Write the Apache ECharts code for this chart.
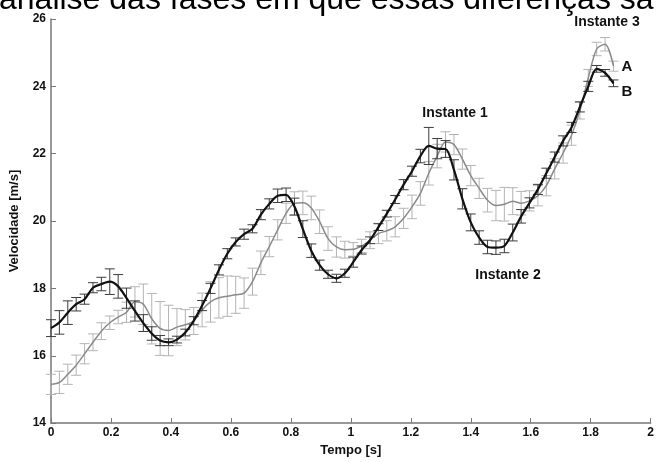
<!DOCTYPE html>
<html>
<head>
<meta charset="utf-8">
<script src="https://cdn.jsdelivr.net/npm/echarts@6/dist/echarts.min.js"></script>
<style>
  html, body { margin: 0; padding: 0; background: #fff; }
  #main { width: 657px; height: 462px; }
</style>
</head>
<body>
<div id="main"></div>
<script>
// sampling instants (s)
var tempo = [0, 0.028, 0.056, 0.084, 0.112, 0.14, 0.168, 0.196, 0.224, 0.252,
  0.28, 0.308, 0.336, 0.364, 0.392, 0.42, 0.448, 0.476, 0.504, 0.532,
  0.56, 0.588, 0.616, 0.644, 0.672, 0.7, 0.728, 0.756, 0.784, 0.812,
  0.84, 0.868, 0.896, 0.924, 0.952, 0.98, 1.008, 1.036, 1.064, 1.092,
  1.12, 1.148, 1.176, 1.204, 1.232, 1.26, 1.288, 1.316, 1.344, 1.372,
  1.4, 1.428, 1.456, 1.484, 1.512, 1.54, 1.568, 1.596, 1.624, 1.652,
  1.68, 1.708, 1.736, 1.764, 1.792, 1.82, 1.848, 1.876];

// curva B (preta)
var velB = [16.82, 16.99, 17.28, 17.53, 17.68, 18.02, 18.13, 18.2, 18.06, 17.71,
  17.33, 16.97, 16.66, 16.45, 16.4, 16.48, 16.69, 17.04, 17.49, 18.0,
  18.55, 19.03, 19.38, 19.61, 19.77, 20.19, 20.51, 20.75, 20.78, 20.43,
  19.76, 19.12, 18.69, 18.42, 18.3, 18.45, 18.78, 19.14, 19.43, 19.82,
  20.22, 20.64, 21.08, 21.48, 21.93, 22.23, 22.15, 22.14, 21.52, 20.66,
  19.96, 19.51, 19.23, 19.21, 19.26, 19.66, 20.14, 20.54, 20.94, 21.42,
  21.9, 22.38, 22.78, 23.39, 24.0, 24.52, 24.4, 24.09];
var errB = [0.25, 0.35, 0.35, 0.2, 0.15, 0.15, 0.2, 0.38, 0.35, 0.3,
  0.3, 0.25, 0.2, 0.15, 0.1, 0.1, 0.1, 0.12, 0.15, 0.15,
  0.15, 0.15, 0.12, 0.15, 0.12, 0.15, 0.15, 0.2, 0.2, 0.25,
  0.25, 0.2, 0.15, 0.12, 0.12, 0.12, 0.15, 0.12, 0.1, 0.1,
  0.1, 0.12, 0.15, 0.15, 0.2, 0.55, 0.3, 0.25, 0.3, 0.3,
  0.25, 0.2, 0.2, 0.2, 0.2, 0.25, 0.2, 0.15, 0.15, 0.15,
  0.15, 0.15, 0.15, 0.15, 0.15, 0.1, 0.1, 0.1];

// curva A (cinza)
var velA = [15.15, 15.21, 15.45, 15.72, 16.06, 16.4, 16.73, 16.98, 17.15, 17.29,
  17.6, 17.53, 17.1, 16.81, 16.75, 16.85, 16.92, 17.03, 17.36, 17.6,
  17.72, 17.77, 17.81, 17.86, 18.2, 18.76, 19.24, 19.74, 20.23, 20.52,
  20.54, 20.39, 19.98, 19.48, 19.23, 19.15, 19.16, 19.26, 19.43, 19.63,
  19.71, 19.83, 20.08, 20.42, 20.82, 21.42, 21.93, 22.35, 22.27, 21.84,
  21.35, 20.97, 20.62, 20.46, 20.5, 20.59, 20.53, 20.6, 20.75, 21.05,
  21.55, 22.02, 22.55, 23.28, 24.25, 25.11, 25.25, 24.6];
var errA = [0.3, 0.33, 0.3, 0.3, 0.3, 0.25, 0.25, 0.2, 0.2, 0.3,
  0.45, 0.6, 0.75, 0.8, 0.75, 0.55, 0.45, 0.4, 0.5, 0.6,
  0.6, 0.6, 0.55, 0.45, 0.4, 0.35, 0.3, 0.3, 0.3, 0.35,
  0.35, 0.35, 0.35, 0.35, 0.3, 0.25, 0.2, 0.2, 0.25, 0.3,
  0.3, 0.3, 0.3, 0.35, 0.35, 0.35, 0.35, 0.3, 0.3, 0.3,
  0.3, 0.3, 0.35, 0.45, 0.5, 0.4, 0.35, 0.3, 0.3, 0.3,
  0.3, 0.3, 0.3, 0.25, 0.25, 0.2, 0.2, 0.15];

var xTicks = [0, 0.2, 0.4, 0.6, 0.8, 1, 1.2, 1.4, 1.6, 1.8, 2];
var yTicks = [14, 16, 18, 20, 22, 24, 26];

function pares(v) {
  return tempo.map(function (t, i) { return [t, v[i]]; });
}
function barras(v, e) {
  return tempo.map(function (t, i) { return [t, v[i] - e[i], v[i] + e[i]]; });
}

function errorBar(color) {
  return function (params, api) {
    var x = api.value(0);
    var lo = api.coord([x, api.value(1)]);
    var hi = api.coord([x, api.value(2)]);
    var w = 5;
    var st = { stroke: color, lineWidth: 1 };
    return {
      type: 'group',
      children: [
        { type: 'line', shape: { x1: hi[0], y1: hi[1], x2: lo[0], y2: lo[1] }, style: st },
        { type: 'line', shape: { x1: hi[0] - w, y1: hi[1], x2: hi[0] + w, y2: hi[1] }, style: st },
        { type: 'line', shape: { x1: lo[0] - w, y1: lo[1], x2: lo[0] + w, y2: lo[1] }, style: st }
      ]
    };
  };
}

var chart = echarts.init(document.getElementById('main'));

var fonte = 'Liberation Sans, Arial, sans-serif';

var option = {
  animation: false,
  backgroundColor: '#fff',
  grid: { left: 51, right: 6, top: 19, bottom: 30 },
  xAxis: {
    type: 'value',
    min: 0, max: 2, interval: 0.2,
    name: 'Tempo [s]',
    nameLocation: 'middle',
    nameGap: 17,
    nameTextStyle: { fontFamily: fonte, fontWeight: 'bold', fontSize: 13, color: '#111' },
    axisLine: { lineStyle: { color: '#777', width: 1.5 } },
    axisTick: { inside: true, length: 5, lineStyle: { color: '#777' } },
    splitLine: { show: false },
    axisLabel: {
      fontFamily: fonte, fontWeight: 'bold', fontSize: 12, color: '#111', margin: 4,
      formatter: function (v) { return xTicks.indexOf(+v.toFixed(1)) >= 0 ? String(+v.toFixed(1)) : ''; }
    }
  },
  yAxis: {
    type: 'value',
    min: 14, max: 26, interval: 2,
    name: 'Velocidade [m/s]',
    nameLocation: 'middle',
    nameGap: 30,
    nameTextStyle: { fontFamily: fonte, fontWeight: 'bold', fontSize: 13, color: '#111' },
    axisLine: { show: true, lineStyle: { color: '#777', width: 1.5 } },
    axisTick: { show: true, inside: true, length: 5, lineStyle: { color: '#777' } },
    splitLine: { show: false },
    axisLabel: {
      fontFamily: fonte, fontWeight: 'bold', fontSize: 12, color: '#111', margin: 5,
      formatter: function (v) { return yTicks.indexOf(v) >= 0 ? String(v) : ''; }
    }
  },
  graphic: [
    {
      type: 'text', left: -1, top: -16,
      style: { text: 'análise das fases em que essas diferenças sã', font: '32px "Liberation Sans", Arial, sans-serif', fill: '#000' }
    },
    { type: 'text', x: 455, y: 113, style: { text: 'Instante 1', font: 'bold 14px "Liberation Sans", Arial', fill: '#111', align: 'center', verticalAlign: 'middle' } },
    { type: 'text', x: 508, y: 275, style: { text: 'Instante 2', font: 'bold 14px "Liberation Sans", Arial', fill: '#111', align: 'center', verticalAlign: 'middle' } },
    { type: 'text', x: 607, y: 22, style: { text: 'Instante 3', font: 'bold 14px "Liberation Sans", Arial', fill: '#111', align: 'center', verticalAlign: 'middle' } },
    { type: 'text', x: 627, y: 67, style: { text: 'A', font: 'bold 15px "Liberation Sans", Arial', fill: '#111', align: 'center', verticalAlign: 'middle' } },
    { type: 'text', x: 627, y: 92, style: { text: 'B', font: 'bold 15px "Liberation Sans", Arial', fill: '#111', align: 'center', verticalAlign: 'middle' } }
  ],
  series: [
    {
      name: 'A barras', type: 'custom', z: 1,
      renderItem: errorBar('#b4b4b4'),
      encode: { x: 0, y: [1, 2] },
      data: barras(velA, errA)
    },
    {
      name: 'A', type: 'line', z: 2, smooth: 0.3, showSymbol: false,
      lineStyle: { color: '#8a8a8a', width: 1.5 },
      data: pares(velA)
    },
    {
      name: 'B barras', type: 'custom', z: 3,
      renderItem: errorBar('#3c3c3c'),
      encode: { x: 0, y: [1, 2] },
      data: barras(velB, errB)
    },
    {
      name: 'B', type: 'line', z: 4, smooth: 0.3, showSymbol: false,
      lineStyle: { color: '#111', width: 2.2 },
      data: pares(velB)
    }
  ]
};

chart.setOption(option);
</script>
</body>
</html>
